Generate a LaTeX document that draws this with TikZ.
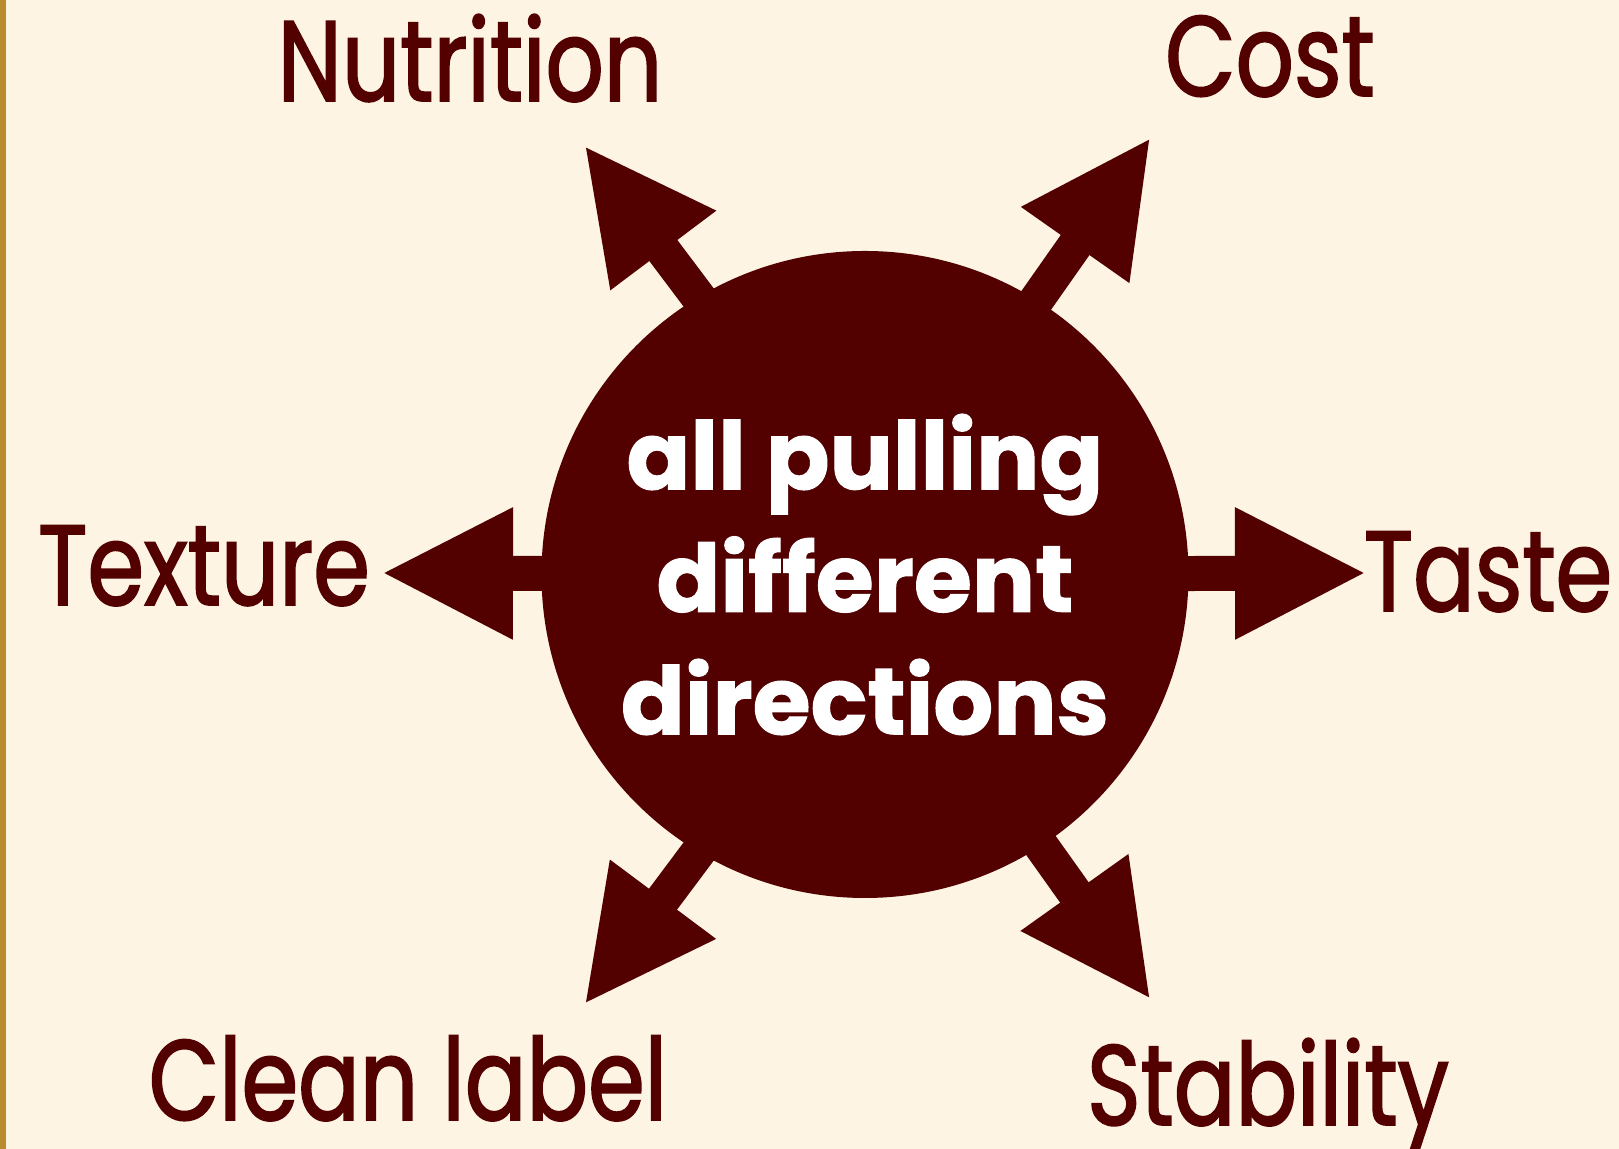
\documentclass[tikz,border=0pt]{standalone}
\usepackage{fontspec}
\setmainfont{Poppins}
\newfontfamily\goalfont[FakeStretch=0.8,FakeBold=1.6]{Poppins}
\newfontfamily\hubfont[FakeStretch=1.0,FakeBold=1.2]{Poppins}
\usetikzlibrary{arrows.meta}

\definecolor{pullred}{HTML}{520000}
\definecolor{creamback}{HTML}{FDF4E3}
\definecolor{goldbar}{HTML}{BA8C2F}

\begin{document}
\begin{tikzpicture}[x=0.5pt,y=0.5pt,
    pull/.style={draw=pullred,line width=17.5pt,-{Triangle[length=66pt,width=61pt]},shorten <=-4pt},
    goal/.style={text=pullred,font=\goalfont\fontsize{57}{57}\selectfont,anchor=base,inner sep=0pt}]
  \tikzstyle{hub}=[circle,fill=pullred,minimum size=323.5pt,inner sep=0pt,text=white,align=center,
    font=\hubfont\bfseries\fontsize{47}{61.25}\selectfont]

  \useasboundingbox (0,0) rectangle (1619,1149);
  \fill[creamback] (0,0) rectangle (1619,1149);
  \fill[goldbar] (0,0) rectangle (6,1149);

  \node[hub] (hub) at (865,574.5) {all pulling\\different\\directions};

  % labels round the circle
  \node[goal] (nutrition) at (470,1048) {Nutrition};
  \node[goal] (cost)      at (1270,1053) {Cost};
  \node[goal] (texture)   at (204,544)  {Texture};
  \node[goal] (taste)     at (1488,538) {Taste};
  \node[goal] (clean)     at (408,29)   {Clean label};
  \node[goal] (stability) at (1268,24)  {Stability};

  % arrow tips
  \coordinate (nutrition tip) at (584,1004);
  \coordinate (cost tip)      at (1151,1012);
  \coordinate (texture tip)   at (381,576);
  \coordinate (taste tip)     at (1367,576);
  \coordinate (clean tip)     at (584,144);
  \coordinate (stability tip) at (1151,149);

  \draw[pull] (hub.121.5) -- (nutrition tip);
  \draw[pull] (hub.58.6)  -- (cost tip);
  \draw[pull] (hub) -- (texture tip);
  \draw[pull] (hub) -- (taste tip);
  \draw[pull] (hub.-121.5) -- (clean tip);
  \draw[pull] (hub.-57.3)  -- (stability tip);
\end{tikzpicture}
\end{document}
